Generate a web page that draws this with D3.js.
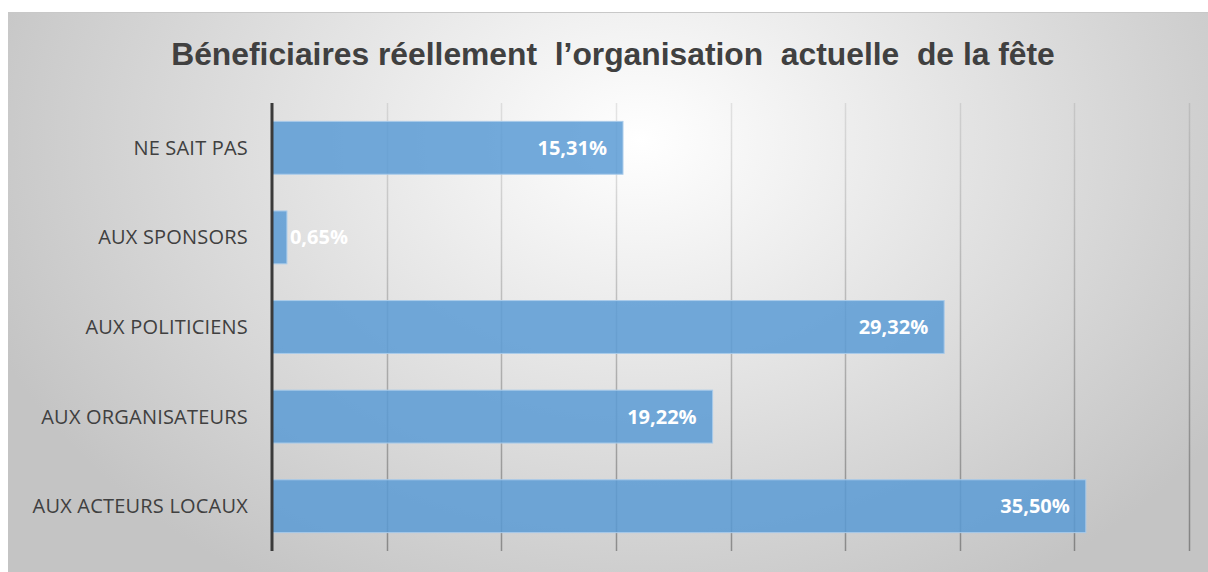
<!DOCTYPE html>
<html>
<head>
	<meta charset="utf-8" />
	<title>Béneficiaires</title>
	<script src="https://d3js.org/d3.v7.min.js"></script>
	<style type="text/css">
		body { margin: 0; background: #ffffff; }
		svg { display: block; }
	</style>
</head>
<body>
	<div id="chart"></div>
	<script>
		const categories = ["NE SAIT PAS", "AUX SPONSORS", "AUX POLITICIENS", "AUX ORGANISATEURS", "AUX ACTEURS LOCAUX"];
		const values = [15.31, 0.65, 29.32, 19.22, 35.50];
		const labels = ["15,31%", "0,65%", "29,32%", "19,22%", "35,50%"];
		const ticks = [0, 5, 10, 15, 20, 25, 30, 35, 40];
		const title = "Béneficiaires réellement  l’organisation  actuelle  de la fête";

		const width = 1208;
		const height = 572;

		const svg = d3.select("#chart")
			.append("svg")
			.attr("width", width)
			.attr("height", height);

		const defs = svg.append("defs");
		const bg = defs.append("radialGradient")
			.attr("id", "bg")
			.attr("gradientUnits", "userSpaceOnUse")
			.attr("cx", 640).attr("cy", 140)
			.attr("r", 700)
			.attr("gradientTransform", "translate(640,140) scale(1,0.75) translate(-640,-140)");
		bg.append("stop").attr("offset", "0%").attr("stop-color", "#ffffff");
		bg.append("stop").attr("offset", "100%").attr("stop-color", "#c4c4c4");

		const gridGrad = defs.append("linearGradient")
			.attr("id", "grid")
			.attr("gradientUnits", "userSpaceOnUse")
			.attr("x1", 0).attr("y1", 103).attr("x2", 0).attr("y2", 551);
		gridGrad.append("stop").attr("offset", "0%").attr("stop-color", "#000").attr("stop-opacity", 0.09);
		gridGrad.append("stop").attr("offset", "100%").attr("stop-color", "#000").attr("stop-opacity", 0.33);

		// chart area background
		svg.append("rect")
			.attr("x", 8).attr("y", 12)
			.attr("width", width - 8).attr("height", height - 12)
			.attr("fill", "url(#bg)");
		svg.append("line")
			.attr("x1", 8).attr("x2", width)
			.attr("y1", 12.5).attr("y2", 12.5)
			.attr("stroke", "#c8c8c8");

		svg.append("text")
			.attr("x", 613).attr("y", 65)
			.attr("text-anchor", "middle")
			.style("font-family", "'Liberation Sans', Arial, sans-serif")
			.style("font-weight", "bold")
			.style("font-size", "31.8px")
			.style("fill", "#404040")
			.style("white-space", "pre")
			.attr("xml:space", "preserve")
			.text(title);

		const x = d3.scaleLinear()
			.domain([0, 40])
			.range([272, 1189]);

		const y = d3.scaleBand()
			.domain(categories)
			.range([103, 551])
			.paddingInner(0.41)
			.paddingOuter(0.205);

		// gridlines
		svg.append("g")
			.selectAll("line")
			.data(ticks.slice(1))
			.enter()
			.append("line")
			.attr("x1", (d) => Math.round(x(d)) + 0.5)
			.attr("x2", (d) => Math.round(x(d)) + 0.5)
			.attr("y1", 103)
			.attr("y2", 551)
			.attr("stroke", "url(#grid)")
			.attr("stroke-width", 1.5);

		// bars
		svg.append("g")
			.selectAll("rect")
			.data(categories)
			.enter()
			.append("rect")
			.attr("x", x(0))
			.attr("y", (d) => y(d))
			.attr("width", (d, i) => x(values[i]) - x(0))
			.attr("height", y.bandwidth())
			.attr("fill", "#5b9bd5")
			.attr("fill-opacity", 0.85)
			.attr("stroke", "#a9cbea")
			.attr("stroke-width", 1);

		// axis line
		svg.append("line")
			.attr("x1", x(0)).attr("x2", x(0))
			.attr("y1", 103).attr("y2", 551)
			.attr("stroke", "#3a3a3a")
			.attr("stroke-width", 3);

		// category labels
		svg.append("g")
			.selectAll("text")
			.data(categories)
			.enter()
			.append("text")
			.attr("x", 248)
			.attr("y", (d) => y(d) + y.bandwidth() / 2)
			.attr("dy", "0.35em")
			.attr("text-anchor", "end")
			.style("font-family", "'Open Sans', sans-serif")
			.style("font-size", "20px")
			.style("letter-spacing", "0.2px")
			.style("fill", "#404040")
			.text((d) => d);

		// value labels
		svg.append("g")
			.selectAll("text")
			.data(categories)
			.enter()
			.append("text")
			.attr("x", (d, i) => values[i] < 3 ? x(values[i]) + 3 : x(values[i]) - 16)
			.attr("y", (d) => y(d) + y.bandwidth() / 2)
			.attr("dy", "0.35em")
			.attr("text-anchor", (d, i) => values[i] < 3 ? "start" : "end")
			.style("font-family", "'Open Sans', sans-serif")
			.style("font-weight", "bold")
			.style("font-size", "20px")
			.style("fill", "#ffffff")
			.text((d, i) => labels[i]);
	</script>
</body>
</html>
